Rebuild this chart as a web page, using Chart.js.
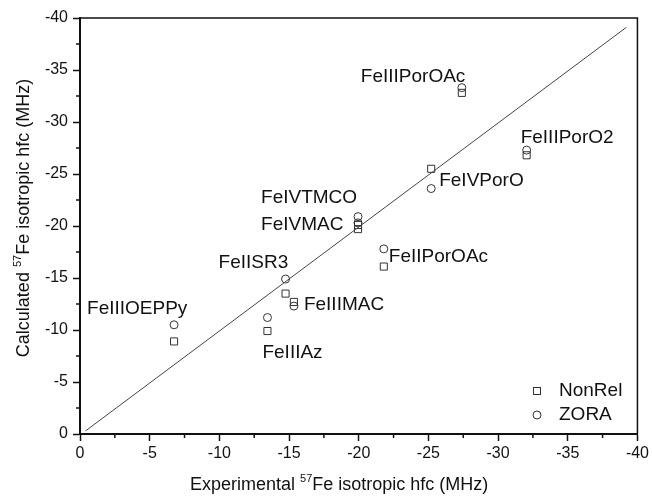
<!DOCTYPE html>
<html>
<head>
<meta charset="utf-8">
<script src="https://cdn.jsdelivr.net/npm/chart.js@4.4.0/dist/chart.umd.min.js"></script>
<style>
  html, body { margin: 0; padding: 0; background: #fff; }
</style>
</head>
<body>
<canvas id="hfcChart" width="652" height="496"></canvas>
<script>
// compounds, experimental and calculated 57Fe isotropic hfc (MHz)
const compounds = ["FeIIIOEPPy", "FeIIIAz", "FeIISR3", "FeIIIMAC", "FeIVMAC",
  "FeIVTMCO", "FeIIPorOAc", "FeIVPorO", "FeIIIPorOAc", "FeIIIPorO2"];
const experimental = [-6.75, -13.45, -14.75, -15.35, -19.95, -19.95, -21.8, -25.2, -27.4, -32.05];
const nonRel = [-8.9, -9.9, -13.5, -12.7, -19.7, -20.1, -16.1, -25.5, -32.8, -26.8];
const zora = [-10.5, -11.2, -14.9, -12.3, -20.3, -20.9, -17.8, -23.6, -33.3, -27.3];
const diagX = [-0.4, -39.2];
const diagY = [-0.3, -39.1];
const axisTicks = [0, -5, -10, -15, -20, -25, -30, -35, -40];

const FONT = "'Liberation Sans', Arial, sans-serif";
const INK = "#111";

// label offsets (px) from the ZORA point of each compound
const labelOffsets = [
  [-87, -16], [-5, 35], [-67, -16], [10, -1], [-97, 2],
  [-97, -19], [5, 8], [8, -8], [-101, -11], [-6, -12]
];

function pairs(xs, ys) {
  return xs.map((x, i) => ({ x: x, y: ys[i] }));
}

// text with a small raised "57"
function supText(ctx, parts, x, y) {
  ctx.font = "18px " + FONT;
  ctx.fillText(parts[0], x, y);
  x += ctx.measureText(parts[0]).width;
  ctx.font = "11px " + FONT;
  ctx.fillText(parts[1], x, y - 8);
  x += ctx.measureText(parts[1]).width;
  ctx.font = "18px " + FONT;
  ctx.fillText(parts[2], x, y);
  return x + ctx.measureText(parts[2]).width;
}

const decorations = {
  id: "decorations",
  afterDraw(chart) {
    const ctx = chart.ctx;
    const xs = chart.scales.x;
    const ys = chart.scales.y;
    const area = chart.chartArea;
    ctx.save();

    // top and right frame
    ctx.strokeStyle = INK;
    ctx.lineWidth = 1.5;
    ctx.beginPath();
    ctx.moveTo(area.left, area.top);
    ctx.lineTo(area.right, area.top);
    ctx.lineTo(area.right, area.bottom);
    ctx.stroke();

    // minor ticks
    for (let v = -2.5; v > -40; v -= 5) {
      const px = xs.getPixelForValue(v);
      ctx.beginPath();
      ctx.moveTo(px, area.bottom);
      ctx.lineTo(px, area.bottom + 4);
      ctx.stroke();
      const py = ys.getPixelForValue(v);
      ctx.beginPath();
      ctx.moveTo(area.left, py);
      ctx.lineTo(area.left - 4, py);
      ctx.stroke();
    }

    // compound labels
    ctx.fillStyle = INK;
    ctx.font = "19px " + FONT;
    ctx.textAlign = "left";
    ctx.textBaseline = "middle";
    compounds.forEach((name, i) => {
      const px = xs.getPixelForValue(experimental[i]);
      const py = ys.getPixelForValue(zora[i]);
      ctx.fillText(name, px + labelOffsets[i][0], py + labelOffsets[i][1]);
    });

    // legend
    const lx = 537;
    ctx.strokeStyle = "#333";
    ctx.lineWidth = 1;
    ctx.strokeRect(lx - 3.5, 391 - 3.5, 7, 7);
    ctx.beginPath();
    ctx.arc(lx, 415, 4, 0, Math.PI * 2);
    ctx.stroke();
    ctx.fillText("NonRel", 559, 391);
    ctx.fillText("ZORA", 559, 415);

    // axis titles
    ctx.textBaseline = "alphabetic";
    supText(ctx, ["Experimental ", "57", "Fe isotropic hfc (MHz)"], 190, 490);

    ctx.translate(29, 218);
    ctx.rotate(-Math.PI / 2);
    const yParts = ["Calculated ", "57", "Fe isotropic hfc (MHz)"];
    ctx.globalAlpha = 0;
    const w = supText(ctx, yParts, 0, 0);
    ctx.globalAlpha = 1;
    supText(ctx, yParts, -w / 2, 0);

    ctx.restore();
  }
};

const ctx = document.getElementById("hfcChart").getContext("2d");
new Chart(ctx, {
  type: "scatter",
  data: {
    datasets: [
      {
        type: "line",
        label: "diagonal",
        data: pairs(diagX, diagY),
        borderColor: "#444",
        borderWidth: 1,
        pointRadius: 0,
        fill: false,
      },
      {
        label: "NonRel",
        data: pairs(experimental, nonRel),
        pointStyle: "rect",
        pointRadius: 5,
        borderColor: "#333",
        backgroundColor: "rgba(255,255,255,0)",
        borderWidth: 1,
      },
      {
        label: "ZORA",
        data: pairs(experimental, zora),
        pointStyle: "circle",
        pointRadius: 4,
        borderColor: "#333",
        backgroundColor: "rgba(255,255,255,0)",
        borderWidth: 1,
      },
    ],
  },
  options: {
    responsive: false,
    animation: false,
    layout: { padding: { top: 18, right: 12, left: 0, bottom: 0 } },
    plugins: {
      legend: { display: false },
      tooltip: { enabled: false },
    },
    scales: {
      x: {
        type: "linear",
        min: -40,
        max: 0,
        reverse: true,
        afterBuildTicks: (s) => { s.ticks = axisTicks.map((v) => ({ value: v })); },
        afterFit: (s) => { s.height = 62; },
        ticks: {
          color: INK,
          font: { family: FONT, size: 16 },
          padding: 3,
          maxRotation: 0,
          callback: (v) => String(v),
        },
        grid: { drawOnChartArea: false, tickLength: 7, color: INK, tickWidth: 1.5 },
        border: { color: INK, width: 2 },
      },
      y: {
        type: "linear",
        min: -40,
        max: 0,
        reverse: true,
        afterBuildTicks: (s) => { s.ticks = axisTicks.map((v) => ({ value: v })); },
        afterFit: (s) => { s.width = 80; },
        ticks: {
          color: INK,
          font: { family: FONT, size: 16 },
          padding: 5,
          callback: (v) => String(v),
        },
        grid: { drawOnChartArea: false, tickLength: 7, color: INK, tickWidth: 1.5 },
        border: { color: INK, width: 2 },
      },
    },
  },
  plugins: [decorations],
});
</script>
</body>
</html>
